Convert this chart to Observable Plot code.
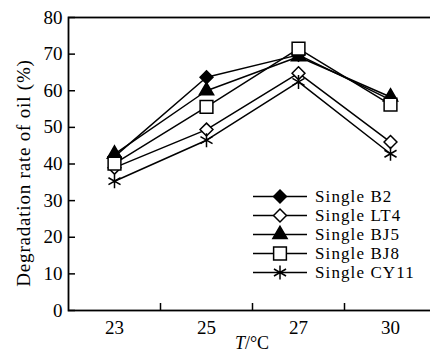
<!DOCTYPE html>
<html>
<head>
<meta charset="utf-8">
<script src="https://cdn.jsdelivr.net/npm/d3@7"></script>
<script src="https://cdn.jsdelivr.net/npm/@observablehq/plot@0.6"></script>
<style>
  html, body { margin: 0; padding: 0; background: #fff; overflow: hidden; }
  #chart { width: 430px; height: 358px; overflow: hidden; }
</style>
</head>
<body>
<div id="chart"></div>
<script>
// ---- data ----
const temps = ["23", "25", "27", "30"];
const seriesNames = ["Single B2", "Single LT4", "Single BJ5", "Single BJ8", "Single CY11"];
const B2   = [42.0, 63.7, 69.8, 57.5];
const LT4  = [39.0, 49.4, 64.8, 46.0];
const BJ5  = [42.7, 60.0, 69.3, 58.3];
const BJ8  = [40.1, 55.6, 71.5, 56.2];
const CY11 = [35.3, 46.5, 62.4, 42.8];
const yTicks = [0, 10, 20, 30, 40, 50, 60, 70, 80];

const seriesValues = [B2, LT4, BJ5, BJ8, CY11];
const rows = [];
seriesNames.forEach((s, si) => temps.forEach((t, ti) => rows.push({series: s, idx: ti + 0.5, value: seriesValues[si][ti]})));

// marker styles per series
const styles = {
  "Single B2":   {symbol: "diamond2", fill: "black", r: 5.8},
  "Single LT4":  {symbol: "diamond2", fill: "white", r: 5.8},
  "Single BJ5":  {symbol: "triangle", fill: "black", r: 5.3},
  "Single BJ8":  {symbol: "square",   fill: "white", r: 7.2},
  "Single CY11": {symbol: "asterisk", fill: "none",  r: 6.6}
};

const font = "'Liberation Serif', 'Times New Roman', serif";
const marks = [];
seriesNames.forEach(s => {
  marks.push(Plot.line(rows.filter(d => d.series === s), {x: "idx", y: "value", stroke: "black", strokeWidth: 1.5}));
});
seriesNames.forEach(s => {
  const st = styles[s];
  marks.push(Plot.dot(rows.filter(d => d.series === s), {x: "idx", y: "value", symbol: () => st.symbol, r: st.r, fill: st.fill, stroke: "black", strokeWidth: 1.5}));
});

const plot = Plot.plot({
  width: 430,
  height: 358,
  marginLeft: 68,
  marginRight: -6,
  marginTop: 17,
  marginBottom: 48,
  style: {fontFamily: font, fontSize: "19px", background: "white", color: "black", overflow: "visible"},
  x: {type: "linear", domain: [0, temps.length]},
  y: {domain: [0, 80]},
  symbol: {type: "identity"},
  marks: [
    Plot.frame({stroke: "black", strokeWidth: 1.8}),
    Plot.axisY({ticks: yTicks, tickSize: -7, tickPadding: 13, label: null, fontSize: 19, strokeWidth: 1.5}),
    Plot.axisX({ticks: temps.map((t, i) => i + 0.5), tickFormat: v => temps[Math.floor(v)], tickSize: 0, tickPadding: 10, label: null, fontSize: 19}),
    Plot.axisX({ticks: d3.range(1, temps.length), tickFormat: () => "", tickSize: -7, label: null, strokeWidth: 1.5}),
    ...marks
  ]
});
document.getElementById("chart").appendChild(plot);

// ---- titles and legend ----
const svg = d3.select(plot.tagName.toLowerCase() === "svg" ? plot : plot.querySelector("svg"));

svg.append("text")
  .attr("transform", "translate(30,173) rotate(-90)")
  .attr("text-anchor", "middle")
  .style("font-family", font).style("font-size", "19px").style("letter-spacing", "0.8px")
  .attr("fill", "black")
  .text("Degradation rate of oil (%)");

const xt = svg.append("text")
  .attr("x", 252).attr("y", 349)
  .attr("text-anchor", "middle")
  .style("font-family", font).style("font-size", "18px")
  .attr("fill", "black");
xt.append("tspan").style("font-style", "italic").text("T");
xt.append("tspan").text("/°C");

const symMap = {diamond2: d3.symbolDiamond2, triangle: d3.symbolTriangle, square: d3.symbolSquare, asterisk: d3.symbolAsterisk};
const lg = svg.append("g");
seriesNames.forEach((s, i) => {
  const st = styles[s];
  const yy = 196.5 + i * 19;
  lg.append("line").attr("x1", 253).attr("x2", 307).attr("y1", yy).attr("y2", yy).attr("stroke", "black").attr("stroke-width", 1.5);
  lg.append("path")
    .attr("transform", `translate(280,${yy})`)
    .attr("d", d3.symbol(symMap[st.symbol], Math.PI * st.r * st.r)())
    .attr("fill", st.fill).attr("stroke", "black").attr("stroke-width", 1.5);
  lg.append("text").attr("x", 315).attr("y", yy).attr("dy", "0.35em")
    .attr("text-anchor", "start")
    .style("font-family", font).style("font-size", "17px").style("letter-spacing", "1.1px")
    .attr("fill", "black").text(s);
});
</script>
</body>
</html>
